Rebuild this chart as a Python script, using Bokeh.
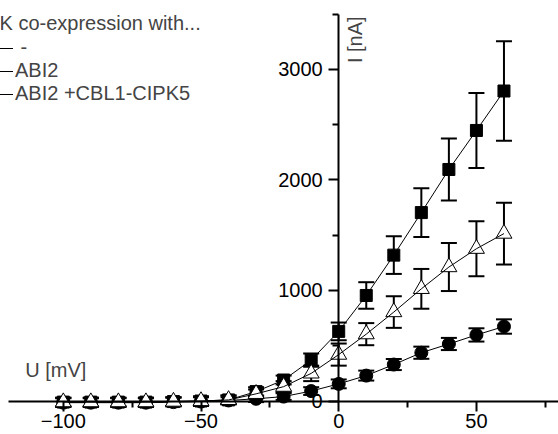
import numpy as np
from bokeh.plotting import figure
from bokeh.models import (ColumnDataSource, Range1d, Whisker, TeeHead, Label,
                          Legend, LegendItem, FixedTicker)
from bokeh.embed import file_html
from bokeh.resources import INLINE

# ---- data ----
voltage = [-100, -90, -80, -70, -60, -50, -40, -30, -20, -10, 0, 10, 20, 30, 40, 50, 60]
cur_none = [-10, -10, -10, -10, -5, 0, 10, 85, 190, 370, 630, 955, 1320, 1705, 2095, 2448, 2805]
err_none = [40, 40, 40, 40, 40, 40, 40, 40, 40, 60, 80, 120, 170, 220, 280, 340, 450]
cur_abi2_cbl = [-10, -10, -10, -10, -5, 0, 10, 65, 130, 250, 420, 605, 805, 1015, 1212, 1378, 1515]
err_abi2_cbl = [40, 40, 40, 40, 40, 40, 40, 40, 50, 70, 100, 100, 143, 180, 217, 249, 280]
cur_abi2 = [-15, -15, -15, -15, -10, -5, 5, 20, 40, 90, 155, 230, 330, 437, 516, 598, 674]
err_abi2 = [40, 40, 40, 40, 40, 40, 30, 30, 30, 35, 40, 45, 50, 55, 55, 60, 65]

legend_title = "K co-expression with..."
legend_labels = [" -", "ABI2", "ABI2 +CBL1-CIPK5"]
x_ticks = [-100, -50, 0, 50]
y_ticks = [0, 1000, 2000, 3000]

FONT = "Liberation Sans"
FS = "20px"

p = figure(width=558, height=434, output_backend="svg", toolbar_location=None,
           x_range=Range1d(-122.8, 79.8), y_range=Range1d(-303, 3624),
           min_border=0, outline_line_color=None)
p.grid.visible = False
p.background_fill_color = "white"

for ax in (p.xaxis, p.yaxis):
    ax.fixed_location = 0
    ax.axis_line_width = 2
    ax.major_tick_line_width = 2
    ax.minor_tick_line_width = 2
    ax.major_tick_in = 0
    ax.major_tick_out = 10
    ax.minor_tick_in = 0
    ax.minor_tick_out = 6
    ax.major_label_text_font = FONT
    ax.major_label_text_font_size = FS
    ax.major_label_text_color = "black"
    ax.axis_line_color = "black"

p.xaxis.ticker = FixedTicker(ticks=x_ticks, minor_ticks=[-75, -25, 25, 75])
p.yaxis.ticker = FixedTicker(ticks=y_ticks, minor_ticks=[500, 1500, 2500, 3500])
p.xaxis.bounds = (-120, 80)
p.yaxis.bounds = (0, 3500)
p.xaxis.major_label_standoff = 3
p.yaxis.major_label_standoff = 6

series = [
    (cur_none, err_none, "square", "black", 12),
    (cur_abi2, err_abi2, "circle", "black", 13),
    (cur_abi2_cbl, err_abi2_cbl, "triangle", "white", 16),
]
renderers = []
for cur, err, marker, fill, size in series:
    src = ColumnDataSource(dict(
        x=voltage, y=cur,
        upper=[c + e for c, e in zip(cur, err)],
        lower=[c - e for c, e in zip(cur, err)]))
    w = Whisker(source=src, base="x", upper="upper", lower="lower",
                line_width=2, line_color="black",
                upper_head=TeeHead(size=16, line_width=2, line_color="black"),
                lower_head=TeeHead(size=16, line_width=2, line_color="black"))
    p.add_layout(w)
    r = p.scatter("x", "y", source=src, marker=marker, size=size,
                  fill_color=fill, line_color="black", line_width=1)
    ln = p.line("x", "y", source=src, line_color="black", line_width=1)
    renderers.append((ln, r))

legend = Legend(items=[LegendItem(label=legend_labels[i], renderers=list(renderers[i]))
                       for i in range(3)],
                location=(-47, 329), glyph_width=60, glyph_height=18, label_height=18,
                label_standoff=2, spacing=-2, padding=2, margin=0,
                border_line_color=None, background_fill_alpha=0,
                label_text_font=FONT, label_text_font_size=FS)
p.add_layout(legend)

p.add_layout(Label(x=-1, y=412, x_units="screen", y_units="screen", text=legend_title,
                   text_font=FONT, text_font_size=FS, text_baseline="middle"))
p.add_layout(Label(x=-113.8, y=280, text="U [mV]", text_font=FONT, text_font_size=FS,
                   text_baseline="middle"))
p.add_layout(Label(x=0, y=3480, x_offset=16, text="I [nA]", angle=np.pi / 2,
                   text_font=FONT, text_font_size=FS, text_align="right",
                   text_baseline="middle"))

open("out.html", "w").write(file_html(p, INLINE))
